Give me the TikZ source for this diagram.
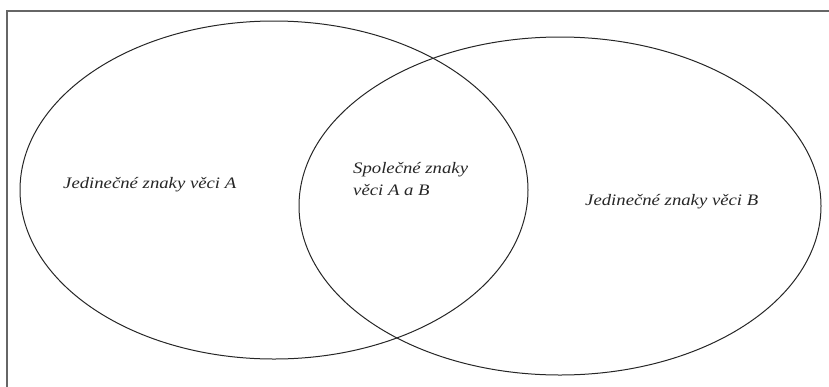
\documentclass[tikz,border=0pt]{standalone}
\usepackage{fontspec}
\setmainfont{Liberation Serif}
\newfontfamily\setfont[FakeStretch=1.17]{Liberation Serif}
\begin{document}
\begin{tikzpicture}[x=1pt,y=-1pt,
    setlabel/.style={font=\setfont\itshape\fontsize{16}{22}\selectfont, text=black!85, inner sep=0pt, align=left}]
        % Canvas
        \useasboundingbox (0,0) rectangle (829,386);
        \clip (0,0) rectangle (829,386);
        
        % Frame
        \draw[black!60, line width=1.3pt] (7,11) rectangle (845,400);
        
        % Set A
        \draw[black!85, line width=1pt] (274,190) ellipse [x radius=254, y radius=169];
        
        % Set B
        \draw[black!85, line width=1pt] (560,206) ellipse [x radius=261, y radius=169];
        
        % Labels
        \node[setlabel, anchor=west] (onlyA) at (63,185) {Jedinečné znaky věci A};
        \node[setlabel, anchor=west] (both) at (353,179) {Společné znaky\\věci A a B};
        \node[setlabel, anchor=west] (onlyB) at (585,202) {Jedinečné znaky věci B};
    \end{tikzpicture}
\end{document}
